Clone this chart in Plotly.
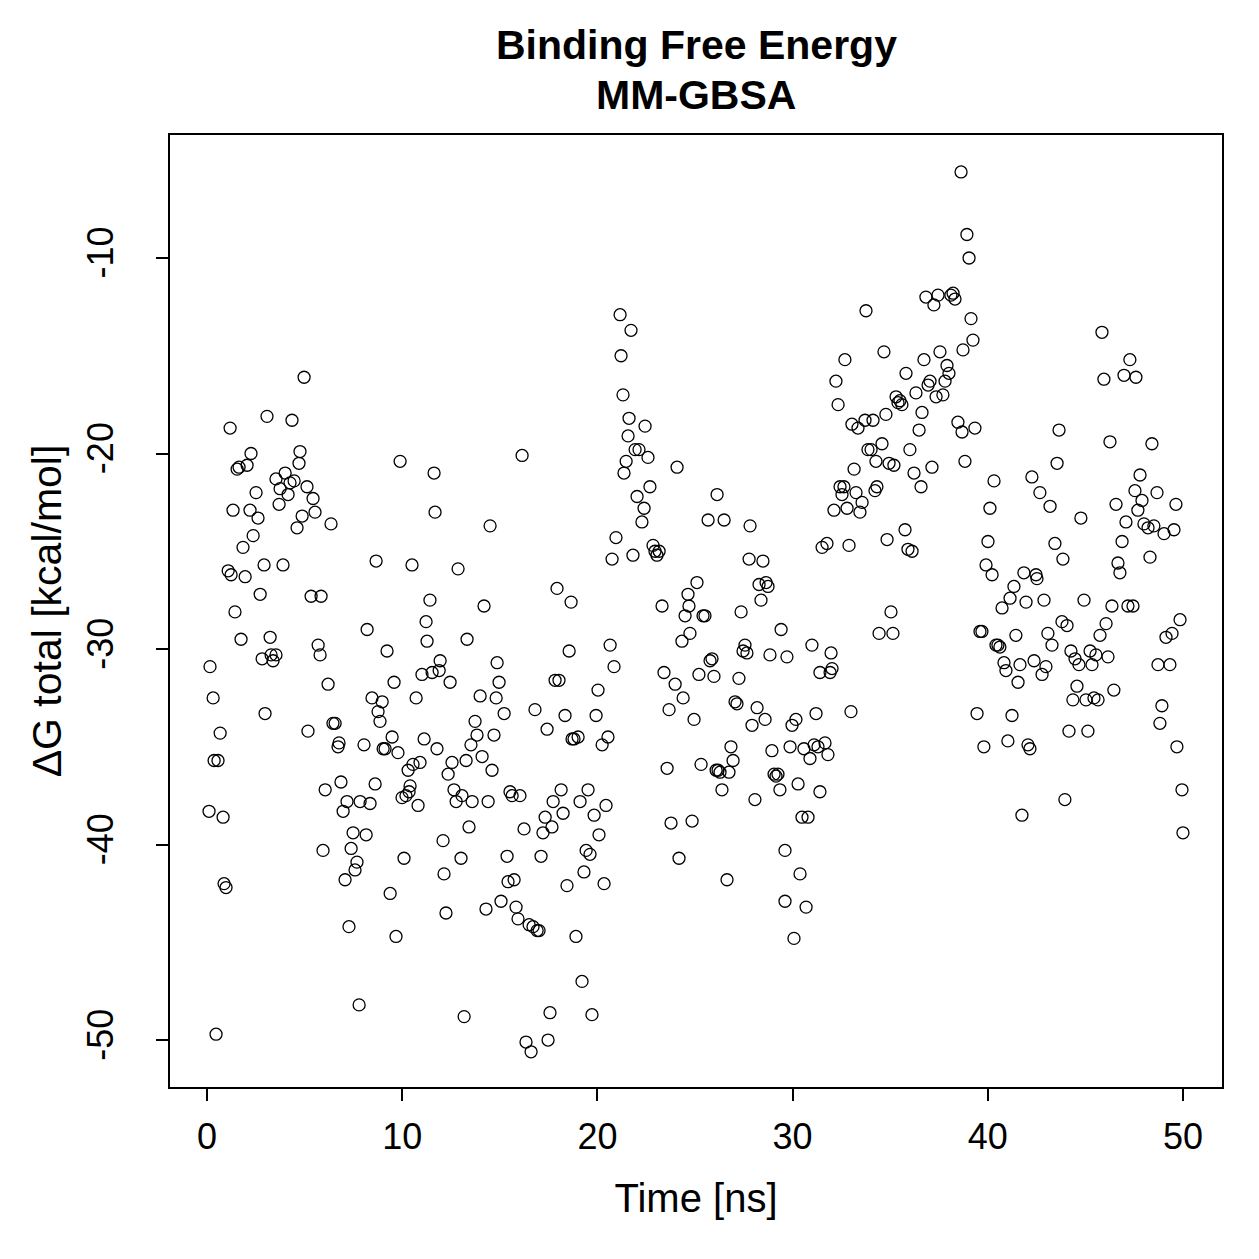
import plotly.graph_objects as go

time_ns = [
 0.10,0.15,0.31,0.36,0.46,0.56,0.67,0.82,0.87,0.97,1.08,1.18,1.23,1.33,1.43,1.54,1.64,1.74,1.84,1.95,
 2.05,2.20,2.25,2.36,2.51,2.61,2.72,2.82,2.92,2.97,3.07,3.23,3.28,3.38,3.53,3.53,3.69,3.74,3.89,4.00,
 4.15,4.25,4.35,4.46,4.61,4.71,4.76,4.87,4.97,5.12,5.17,5.33,5.43,5.53,5.69,5.79,5.84,5.94,6.05,6.20,
 6.35,6.45,6.56,6.71,6.76,6.86,6.97,7.07,7.17,7.27,7.38,7.48,7.58,7.68,7.79,7.84,8.04,8.15,8.20,8.35,
 8.45,8.61,8.66,8.76,8.86,8.97,9.02,9.12,9.22,9.38,9.48,9.58,9.68,9.78,9.89,9.99,10.09,10.19,10.30,10.35,
 10.40,10.50,10.55,10.71,10.81,10.91,11.01,11.12,11.22,11.27,11.42,11.53,11.63,11.68,11.78,11.89,11.94,12.09,12.14,12.24,
 12.35,12.45,12.55,12.65,12.76,12.86,13.01,13.06,13.17,13.27,13.32,13.42,13.52,13.58,13.73,13.83,13.99,14.09,14.19,14.29,
 14.40,14.50,14.60,14.70,14.81,14.86,14.96,15.06,15.22,15.37,15.42,15.52,15.63,15.73,15.83,15.93,16.03,16.14,16.24,16.34,
 16.50,16.60,16.70,16.80,16.91,17.01,17.11,17.21,17.32,17.42,17.47,17.57,17.67,17.73,17.83,17.93,18.03,18.14,18.24,18.34,
 18.44,18.55,18.65,18.70,18.80,18.90,19.01,19.11,19.21,19.31,19.42,19.52,19.62,19.72,19.83,19.93,20.03,20.08,20.24,20.34,
 20.44,20.54,20.65,20.75,20.85,20.95,21.16,21.21,21.31,21.36,21.47,21.57,21.62,21.72,21.82,21.93,22.03,22.13,22.28,22.39,
 22.44,22.59,22.69,22.85,22.95,23.05,23.16,23.31,23.41,23.57,23.67,23.77,23.98,24.08,24.18,24.33,24.39,24.49,24.64,24.69,
 24.74,24.85,24.95,25.10,25.20,25.31,25.41,25.51,25.67,25.77,25.87,25.97,26.08,26.13,26.18,26.28,26.38,26.49,26.64,26.74,
 26.84,26.95,27.05,27.15,27.25,27.36,27.46,27.56,27.66,27.77,27.82,27.92,28.07,28.18,28.28,28.38,28.48,28.59,28.64,28.74,
 28.84,28.94,29.05,29.15,29.25,29.35,29.41,29.61,29.61,29.71,29.87,29.97,30.07,30.17,30.28,30.38,30.48,30.58,30.69,30.79,
 30.89,30.99,31.10,31.20,31.30,31.40,31.40,31.51,31.66,31.76,31.81,31.92,31.97,32.02,32.12,32.22,32.33,32.43,32.53,32.63,
 32.68,32.79,32.89,32.99,33.04,33.15,33.25,33.35,33.45,33.56,33.71,33.76,33.86,34.02,34.12,34.22,34.27,34.32,34.43,34.58,
 34.68,34.78,34.84,34.94,35.04,35.14,35.19,35.30,35.40,35.50,35.60,35.76,35.81,35.91,36.01,36.12,36.22,36.32,36.48,36.58,
 36.63,36.73,36.83,36.94,37.04,37.14,37.24,37.35,37.45,37.55,37.70,37.81,37.91,38.01,38.11,38.22,38.32,38.47,38.63,38.68,
 38.73,38.83,38.93,39.04,39.14,39.24,39.34,39.45,39.60,39.70,39.80,39.91,40.01,40.11,40.22,40.32,40.42,40.52,40.62,40.73,
 40.83,40.93,41.03,41.14,41.24,41.34,41.44,41.55,41.65,41.75,41.85,41.96,42.06,42.16,42.26,42.37,42.47,42.52,42.67,42.78,
 42.88,42.98,43.08,43.19,43.29,43.44,43.55,43.65,43.80,43.85,43.95,44.06,44.16,44.26,44.36,44.47,44.57,44.67,44.77,44.93,
 45.03,45.13,45.24,45.34,45.44,45.54,45.65,45.75,45.85,45.95,46.06,46.16,46.26,46.36,46.46,46.57,46.67,46.77,46.88,46.98,
 47.08,47.18,47.28,47.44,47.54,47.59,47.69,47.80,47.90,48.00,48.21,48.31,48.41,48.51,48.67,48.72,48.82,48.92,49.03,49.13,
 49.33,49.44,49.54,49.64,49.69,49.85,49.95,50.00,
]

dG_total = [
 -38.3,-30.9,-32.5,-35.7,-49.7,-35.7,-34.3,-38.6,-42.0,-42.2,-26.0,-18.7,-26.2,-22.9,-28.1,-20.8,-20.7,-29.5,-24.8,-26.3,
 -20.6,-22.9,-20.0,-24.2,-22.0,-23.3,-27.2,-30.5,-25.7,-33.3,-18.1,-29.4,-30.3,-30.6,-30.3,-21.3,-22.6,-21.8,-25.7,-21.0,
 -22.1,-21.5,-18.3,-21.4,-23.8,-20.5,-19.9,-23.2,-16.1,-21.7,-34.2,-27.3,-22.3,-23.0,-29.8,-30.3,-27.3,-40.3,-37.2,-31.8,
 -23.6,-33.8,-33.8,-35.0,-34.8,-36.8,-38.3,-41.8,-37.8,-44.2,-40.2,-39.4,-41.3,-40.9,-48.2,-37.8,-34.9,-39.5,-29.0,-37.9,
 -32.5,-36.9,-25.5,-33.2,-33.7,-32.7,-35.1,-35.1,-30.1,-42.5,-34.5,-31.7,-44.7,-35.3,-20.4,-37.6,-40.7,-37.5,-36.2,-37.3,
 -37.0,-25.7,-35.9,-32.5,-38.0,-35.8,-31.3,-34.6,-28.6,-29.6,-27.5,-31.2,-21.0,-23.0,-35.1,-31.1,-30.6,-39.8,-41.5,-43.5,
 -36.4,-31.7,-35.8,-37.2,-37.8,-25.9,-40.7,-37.5,-48.8,-35.7,-29.5,-39.1,-34.9,-37.8,-33.7,-34.4,-32.4,-35.5,-27.8,-43.3,
 -37.8,-23.7,-36.2,-34.4,-32.5,-30.7,-31.7,-42.9,-33.3,-40.6,-41.9,-37.3,-37.5,-41.8,-43.2,-43.8,-37.5,-20.1,-39.2,-50.1,
 -44.1,-50.6,-44.2,-33.1,-44.4,-44.4,-40.6,-39.4,-38.6,-34.1,-50.0,-48.6,-39.1,-37.8,-31.6,-26.9,-31.6,-37.2,-38.4,-33.4,
 -42.1,-30.1,-27.6,-34.6,-34.6,-44.7,-34.5,-37.8,-47.0,-41.4,-40.3,-37.2,-40.5,-48.7,-38.5,-33.4,-32.1,-39.5,-34.9,-42.0,
 -38.0,-34.5,-29.8,-25.4,-30.9,-24.3,-12.9,-15.0,-17.0,-21.0,-20.4,-19.1,-18.2,-13.7,-25.2,-19.8,-22.2,-19.8,-23.5,-22.8,
 -18.6,-20.2,-21.7,-24.7,-25.0,-25.2,-25.0,-27.8,-31.2,-36.1,-33.1,-38.9,-31.8,-20.7,-40.7,-29.6,-32.5,-28.3,-27.2,-27.8,
 -29.2,-38.8,-33.6,-26.6,-31.3,-35.9,-28.3,-28.3,-23.4,-30.6,-30.5,-31.4,-36.2,-22.1,-36.2,-36.3,-37.2,-23.4,-41.8,-36.3,
 -35.0,-35.7,-32.7,-32.8,-31.5,-28.1,-30.1,-29.8,-30.2,-25.4,-23.7,-33.9,-37.7,-33.0,-26.7,-27.5,-25.5,-33.6,-26.6,-26.8,
 -30.3,-35.2,-36.4,-36.5,-36.4,-37.2,-29.0,-40.3,-42.9,-30.4,-35.0,-33.9,-44.8,-33.6,-36.9,-41.5,-38.6,-35.1,-43.2,-38.6,
 -35.6,-29.8,-34.9,-33.3,-35.0,-37.3,-31.2,-24.8,-34.8,-24.6,-35.4,-31.2,-30.2,-31.0,-22.9,-16.3,-17.5,-21.7,-22.1,-21.7,
 -15.2,-22.8,-24.7,-33.2,-18.5,-20.8,-22.0,-18.7,-23.0,-22.5,-18.3,-12.7,-19.8,-19.8,-18.3,-21.9,-20.4,-21.7,-29.2,-19.5,
 -14.8,-18.0,-24.4,-20.5,-28.1,-29.2,-20.6,-17.1,-17.4,-17.3,-17.5,-23.9,-15.9,-24.9,-19.8,-25.0,-21.0,-16.9,-18.8,-21.7,
 -17.9,-15.2,-12.0,-16.5,-16.3,-20.7,-12.4,-17.1,-11.9,-14.8,-17.0,-16.3,-15.5,-15.9,-11.9,-11.8,-12.1,-18.4,-5.6,-18.9,
 -14.7,-20.4,-8.8,-10.0,-13.1,-14.2,-18.7,-33.3,-29.1,-29.1,-35.0,-25.7,-24.5,-22.8,-26.2,-21.4,-29.8,-29.8,-29.9,-27.9,
 -30.7,-31.1,-34.7,-27.4,-33.4,-26.8,-29.3,-31.7,-30.8,-38.5,-26.1,-27.6,-34.9,-35.1,-21.2,-30.6,-26.2,-26.4,-22.0,-31.3,
 -27.5,-30.9,-29.2,-22.7,-29.8,-24.6,-20.5,-18.8,-28.6,-25.4,-37.7,-28.8,-34.2,-30.1,-32.6,-30.5,-31.9,-30.8,-23.3,-27.5,
 -32.6,-34.2,-30.1,-30.8,-32.5,-30.3,-32.6,-29.3,-13.8,-16.2,-28.7,-30.4,-19.4,-27.8,-32.1,-22.6,-25.6,-26.1,-24.5,-16.0,
 -23.5,-27.8,-15.2,-27.8,-21.9,-16.1,-22.9,-21.1,-22.4,-23.6,-23.8,-25.3,-19.5,-23.7,-22.0,-30.8,-33.8,-32.9,-24.1,-29.4,
 -30.8,-29.2,-23.9,-22.6,-35.0,-28.5,-37.2,-39.4,
]

x_ticks = [0, 10, 20, 30, 40, 50]
y_ticks = [-50, -40, -30, -20, -10]
y_tick_text = ["-50", "-40", "-30", "-20", "-10"]
title_lines = ["Binding Free Energy", "MM-GBSA"]

fig = go.Figure()
fig.add_trace(go.Scatter(
    x=time_ns, y=dG_total, mode="markers",
    marker=dict(symbol="circle-open", size=12, color="black", line=dict(width=1.3, color="black")),
    showlegend=False,
))

font_family = "Liberation Sans, Arial, Helvetica, sans-serif"

fig.update_layout(
    width=1259, height=1259,
    margin=dict(l=170, r=37, t=135, b=172),
    paper_bgcolor="white", plot_bgcolor="white",
    font=dict(family=font_family, size=36, color="black"),
)
for text, ypos in zip(title_lines, [1.0945, 1.042]):
    fig.add_annotation(text="<b>" + text + "</b>", xref="paper", yref="paper",
                       x=0.5, y=ypos, xanchor="center", yanchor="middle",
                       showarrow=False, font=dict(size=41, family=font_family, color="black"))

fig.update_xaxes(
    range=[-1.90, 52.0], tickmode="array", tickvals=x_ticks,
    ticks="outside", ticklen=12, tickwidth=2, tickcolor="black",
    showline=True, linewidth=2, linecolor="black", mirror=True,
    showgrid=False, zeroline=False,
    title=dict(text="Time [ns]", standoff=28, font=dict(size=40)),
    tickfont=dict(size=36), ticklabelstandoff=5,
)
fig.update_yaxes(
    range=[-52.40, -3.71], tickmode="array", tickvals=y_ticks, ticktext=y_tick_text,
    ticks="outside", ticklen=12, tickwidth=2, tickcolor="black",
    showline=True, linewidth=2, linecolor="black", mirror=True,
    showgrid=False, zeroline=False, tickangle=-90,
    title=dict(text="ΔG total [kcal/mol]", standoff=5, font=dict(size=41)),
    tickfont=dict(size=36), ticklabelstandoff=29,
)

fig.write_html("out.html")
